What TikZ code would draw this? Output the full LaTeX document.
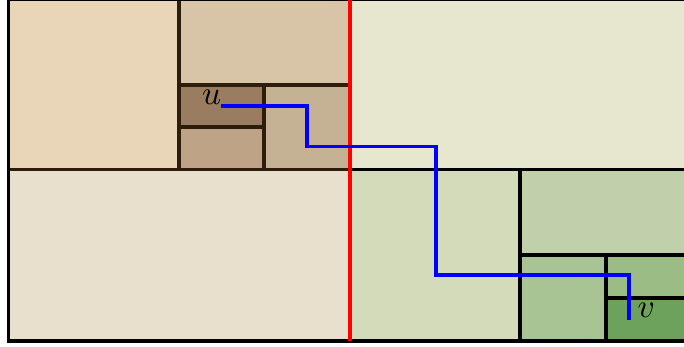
\documentclass[tikz,border=0pt]{standalone}
\usetikzlibrary{positioning}

\definecolor{edgebrown}{RGB}{45,30,12}
\definecolor{tanA}{RGB}{233,213,183}
\definecolor{tanB}{RGB}{216,196,167}
\definecolor{tanC}{RGB}{197,178,149}
\definecolor{tanD}{RGB}{191,163,134}
\definecolor{tanE}{RGB}{154,124,96}
\definecolor{sandA}{RGB}{232,223,205}
\definecolor{paleA}{RGB}{231,231,208}
\definecolor{greenA}{RGB}{212,219,186}
\definecolor{greenB}{RGB}{192,208,170}
\definecolor{greenC}{RGB}{168,196,149}
\definecolor{greenD}{RGB}{155,188,133}
\definecolor{greenE}{RGB}{109,162,92}

\begin{document}
\begin{tikzpicture}[x=0.3pt, y=-0.3pt,
                    cell/.style={draw=black, line width=1pt},
                    browncell/.style={draw=edgebrown, line width=1pt},
                    walk/.style={draw=blue, line width=1pt},
                    endpt/.style={rectangle, fill=blue, inner sep=0pt, minimum size=1.4pt}]
  \useasboundingbox (0,0) rectangle (684,347);
  \clip (0,0) rectangle (684,347);
  % big quadrants
  \filldraw[cell, fill=sandA] (8.7,169.5) rectangle (350,341);
  \filldraw[cell, fill=paleA] (350,-0.6) rectangle (692,169.5);
  % top left quadrant
  \filldraw[browncell, fill=tanA] (8.7,-0.6) rectangle (179,169.5);
  \filldraw[browncell, fill=tanB] (179,-0.6) rectangle (350,85);
  \filldraw[browncell, fill=tanC] (264,85) rectangle (350,169.5);
  \filldraw[browncell, fill=tanD] (179,127) rectangle (264,169.5);
  \filldraw[browncell, fill=tanE] (179,85) rectangle (264,127);
  % bottom right quadrant
  \filldraw[cell, fill=greenA] (350,169.5) rectangle (520,341);
  \filldraw[cell, fill=greenB] (520,169.5) rectangle (692,255);
  \filldraw[cell, fill=greenC] (520,255) rectangle (606,341);
  \filldraw[cell, fill=greenD] (606,255) rectangle (692,298);
  \filldraw[cell, fill=greenE] (606,298) rectangle (692,341);
  % frame and split
  \draw[line width=1pt] (8.7,-0.6) rectangle (692,341);
  \draw[red, line width=1pt] (350,-0.6) -- (350,341);
  % walk from u to v
  \node[endpt] (u) at (223,106) {};
  \node[endpt] (v) at (629,318) {};
  \node[anchor=south east, inner sep=0.3pt] (ulabel) at (u.center) {$u$};
  \node[anchor=south west, inner sep=0pt, xshift=2.4pt] (vlabel) at (v.center) {$v$};
  \draw[walk] (u.center) -| (307,146.5) -| (436,275) -| (v.center);
\end{tikzpicture}
\end{document}
